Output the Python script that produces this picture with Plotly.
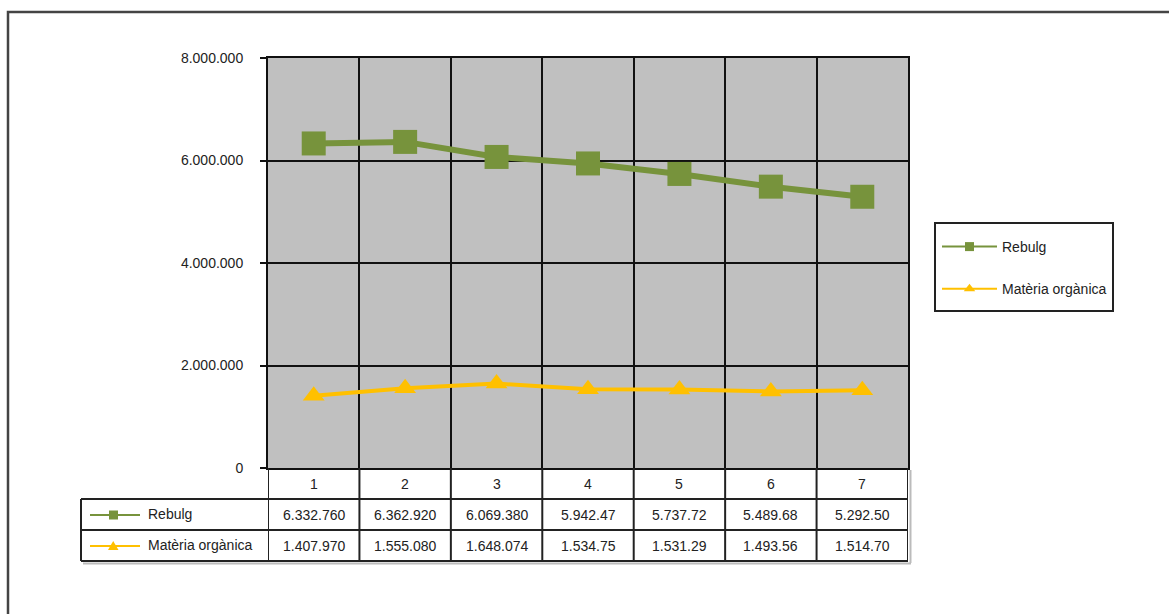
import plotly.graph_objects as go

# chart data
categories = [1, 2, 3, 4, 5, 6, 7]
rebulg = [6332760, 6362920, 6069380, 5942470, 5737720, 5489680, 5292500]
materia = [1407970, 1555080, 1648074, 1534750, 1531290, 1493560, 1514700]

# text shown in the data table (Excel cuts some cells short)
rebulg_labels = ["6.332.760", "6.362.920", "6.069.380", "5.942.47", "5.737.72", "5.489.68", "5.292.50"]
materia_labels = ["1.407.970", "1.555.080", "1.648.074", "1.534.75", "1.531.29", "1.493.56", "1.514.70"]
y_ticks = [0, 2000000, 4000000, 6000000, 8000000]

series_names = ["Rebulg", "Matèria orgànica"]
GREEN = "#77933C"
YELLOW = "#FFC000"
FONT = "Liberation Sans, Arial, sans-serif"

W, H = 1169, 614


def px(x):
    return x / W


def py(y):
    return 1 - y / H


fig = go.Figure()

fig.add_trace(go.Scatter(
    x=categories, y=rebulg, name=series_names[0], mode="lines+markers",
    line=dict(color=GREEN, width=6),
    marker=dict(symbol="square", size=24, color=GREEN),
    showlegend=False,
))
fig.add_trace(go.Scatter(
    x=categories, y=materia, name=series_names[1], mode="lines+markers",
    line=dict(color=YELLOW, width=4),
    marker=dict(symbol="triangle-up", size=19, color=YELLOW),
    showlegend=False,
))

# thin legend entries like the Excel legend
fig.add_trace(go.Scatter(
    x=[None], y=[None], name=series_names[0], mode="lines+markers",
    line=dict(color=GREEN, width=2), marker=dict(symbol="square", size=9, color=GREEN),
    legendgroup="a",
))
fig.add_trace(go.Scatter(
    x=[None], y=[None], name=series_names[1], mode="lines+markers",
    line=dict(color=YELLOW, width=2), marker=dict(symbol="triangle-up", size=10, color=YELLOW),
    legendgroup="b",
))

bounds = [c - 0.5 for c in categories] + [categories[-1] + 0.5]

shapes = []
# outer chart border
shapes.append(dict(type="rect", xref="paper", yref="paper",
                   x0=px(8), x1=px(1180), y0=py(12), y1=py(630),
                   line=dict(color="#444", width=2.5)))
# legend frame (legend itself is drawn without a box)
shapes.append(dict(type="rect", xref="paper", yref="paper",
                   x0=px(935), x1=px(1113), y0=py(223), y1=py(311),
                   fillcolor="white", line=dict(color="#222", width=2)))

# data table grid
row_y = [468, 499, 530, 561]
for y in row_y[1:]:
    shapes.append(dict(type="line", xref="paper", yref="paper",
                       x0=px(81), x1=px(908), y0=py(y), y1=py(y),
                       line=dict(color="#222", width=2)))
shapes.append(dict(type="line", xref="paper", yref="paper",
                   x0=px(81), x1=px(81), y0=py(499), y1=py(561),
                   line=dict(color="#222", width=2)))
for b in bounds:
    shapes.append(dict(type="line", xref="x", yref="paper",
                       x0=b, x1=b, y0=py(468), y1=py(561),
                       line=dict(color="#222", width=2)))
# soft shadow on the table
shapes.append(dict(type="line", xref="paper", yref="paper",
                   x0=px(83), x1=px(911), y0=py(563.5), y1=py(563.5),
                   line=dict(color="#bbb", width=2)))
shapes.append(dict(type="line", xref="paper", yref="paper",
                   x0=px(910.5), x1=px(910.5), y0=py(470), y1=py(563),
                   line=dict(color="#bbb", width=2)))

# legend keys inside the table
key_rows = [515, 546]
key_colors = [GREEN, YELLOW]
for ky, col in zip(key_rows, key_colors):
    shapes.append(dict(type="line", xref="paper", yref="paper",
                       x0=px(90), x1=px(140), y0=py(ky), y1=py(ky),
                       line=dict(color=col, width=2)))
shapes.append(dict(type="rect", xref="paper", yref="paper",
                   x0=px(109), x1=px(118), y0=py(510.5), y1=py(519.5),
                   fillcolor=GREEN, line=dict(width=0)))
shapes.append(dict(type="path", xref="paper", yref="paper",
                   path="M {} {} L {} {} L {} {} Z".format(px(108), py(550), px(118.5), py(550), px(113.2), py(541)),
                   fillcolor=YELLOW, line=dict(width=0)))

cell_font = dict(size=14, color="#222", family=FONT)
annotations = []
for c in categories:
    annotations.append(dict(x=c, y=py(484), xref="x", yref="paper", text=str(c),
                            xanchor="center", yanchor="middle", showarrow=False, font=cell_font))
for c, lab in zip(categories, rebulg_labels):
    annotations.append(dict(x=c, y=py(515), xref="x", yref="paper", text=lab,
                            xanchor="center", yanchor="middle", showarrow=False, font=cell_font))
for c, lab in zip(categories, materia_labels):
    annotations.append(dict(x=c, y=py(546), xref="x", yref="paper", text=lab,
                            xanchor="center", yanchor="middle", showarrow=False, font=cell_font))
for ky, name in zip(key_rows, series_names):
    annotations.append(dict(x=px(146), y=py(ky - 1), xref="paper", yref="paper", text=name,
                            xanchor="left", yanchor="middle", showarrow=False, font=cell_font))

fig.update_layout(
    width=W, height=H,
    margin=dict(l=0, r=0, t=0, b=0, pad=0, autoexpand=False),
    paper_bgcolor="white",
    plot_bgcolor="#C0C0C0",
    separators=",.",
    font=dict(family=FONT, size=14, color="#222"),
    shapes=shapes,
    annotations=annotations,
    legend=dict(
        x=px(937), y=py(231), xanchor="left", yanchor="top",
        borderwidth=0, bgcolor="rgba(0,0,0,0)",
        font=dict(size=14, family=FONT, color="#222"),
        itemwidth=55, tracegroupgap=21,
    ),
    xaxis=dict(
        domain=[px(268), px(908)],
        range=[bounds[0], bounds[-1]],
        tickvals=bounds, showticklabels=False, ticks="",
        showgrid=True, gridcolor="#111", gridwidth=1.5,
        showline=True, linecolor="#111", linewidth=2, mirror=True,
        zeroline=False, automargin=False,
    ),
    yaxis=dict(
        domain=[py(468), py(58)],
        range=[0, 8000000],
        tickvals=y_ticks, tickformat=",d",
        ticks="outside", ticklen=6, tickcolor="#111", tickwidth=1.5,
        ticklabelstandoff=14,
        showgrid=True, gridcolor="#111", gridwidth=1.5,
        showline=True, linecolor="#111", linewidth=2, mirror=True,
        zeroline=False, automargin=False,
    ),
)

# pin the figure to the top-left corner of the page
pin = ("document.body.style.margin='0';"
       "var d=document.getElementById('{plot_id}');"
       "d.style.position='fixed';d.style.top='0';d.style.left='0';")
fig.write_html("out.html", config={"displayModeBar": False}, post_script=pin)
